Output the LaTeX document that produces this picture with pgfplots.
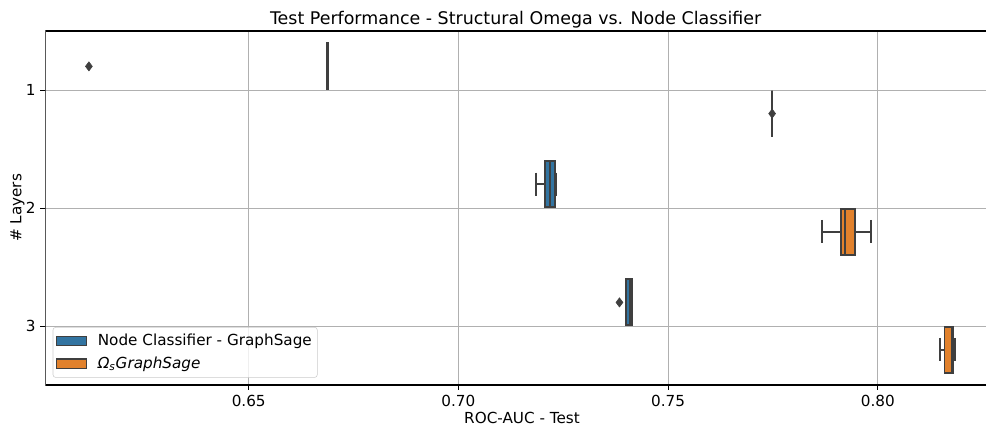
\documentclass[border=0pt]{standalone}
\usepackage{pgfplots}
\pgfplotsset{compat=1.18}
\usepgfplotslibrary{statistics}
\usepackage{fontspec}
\setmainfont{DejaVu Sans}

\definecolor{sbblue}{HTML}{3274A1}
\definecolor{sborange}{HTML}{E1812C}
\definecolor{edge}{HTML}{3F3F3F}
\definecolor{gridc}{HTML}{B0B0B0}
\definecolor{legframe}{HTML}{CCCCCC}

% one horizontal box: draw position, whiskers, quartiles, median, fill
\pgfplotsset{
  hbox/.style n args={7}{
    forget plot,
    boxplot/draw direction=x,
    boxplot/every box/.style={fill=#7, draw=edge, line width=1.4bp},
    boxplot/every whisker/.style={draw=edge, line width=1.4bp},
    boxplot/every median/.style={draw=edge, line width=1.4bp},
    boxplot prepared={
      draw position=#1,
      lower whisker=#2, lower quartile=#3, median=#4,
      upper quartile=#5, upper whisker=#6,
      box extend=0.39, whisker extend=0.2,
    },
    draw=edge, line width=1.4bp,
  },
}

\begin{document}
\begin{tikzpicture}
\begin{axis}[
  name=ax,
  scale only axis, width=677.3bp, height=254.9bp,
  xmin=0.6015, xmax=0.8258,
  ymin=0.5, ymax=3.5, y dir=reverse,
  xtick={0.65,0.70,0.75,0.80},
  xticklabels={0.65,0.70,0.75,0.80},
  ytick={1,2,3},
  yticklabels={1,2,3},
  ticklabel style={font=\fontsize{11}{13}\selectfont},
  grid=major, grid style={gridc, line width=0.6bp},
  tick align=outside, tick pos=left, major tick length=3.5bp,
  tick style={black, line width=0.6bp},
  axis line style={draw=none},
  title={Test Performance - Structural Omega vs. Node Classifier},
  title style={at={(0.5,1)}, anchor=base, yshift=-1.5bp,
    font=\fontsize{12.6}{15}\selectfont},
  xlabel={ROC-AUC - Test},
  xlabel style={at={(0.5,0)}, anchor=base, yshift=-27.6bp, xshift=4.6bp,
    font=\fontsize{11}{13}\selectfont},
  legend style={at={(0.0079,0.0206)}, anchor=south west,
    draw=legframe, rounded corners=2bp, fill=white, fill opacity=0.8,
    text opacity=1, font=\fontsize{11}{13}\selectfont,
    row sep=2.5bp, column sep=5.5bp, inner xsep=2bp, inner ysep=3bp},
  legend cell align=left,
  legend image code/.code={\draw[sharp corners, fill opacity=1, draw opacity=1, #1]
    (0bp,-3.4bp) rectangle (22bp,3.4bp);},
]

% Node Classifier - GraphSage
\addplot[hbox={0.8}{0.6687}{0.6687}{0.6688}{0.6689}{0.6689}{sbblue}] coordinates {};
\addplot[hbox={1.8}{0.7184}{0.7207}{0.7219}{0.7231}{0.7233}{sbblue}] coordinates {};
\addplot[hbox={2.8}{0.7400}{0.7400}{0.7408}{0.7415}{0.7415}{sbblue}] coordinates {};

% Omega_s GraphSage
\addplot[hbox={1.2}{0.7748}{0.7748}{0.7748}{0.7748}{0.7748}{sborange}] coordinates {};
\addplot[hbox={2.2}{0.7866}{0.7912}{0.7922}{0.7945}{0.7983}{sborange}] coordinates {};
\addplot[hbox={3.2}{0.8149}{0.8159}{0.8177}{0.8180}{0.8184}{sborange}] coordinates {};

% outliers
\addplot[only marks, mark=diamond*, mark size=3.3bp, color=edge, forget plot]
  coordinates {(0.6119,0.8) (0.7748,1.2) (0.7384,2.8)};

\addlegendimage{fill=sbblue, draw=edge, line width=0.8bp}
\addlegendentry{Node Classifier - GraphSage}
\addlegendimage{fill=sborange, draw=edge, line width=0.8bp}
\addlegendentry{{\itshape Ω\textsubscript{s}GraphSage}}

% frame: left, top and bottom spines
\draw[black, line width=0.8bp] (rel axis cs:1,0) -- (rel axis cs:0,0)
  -- (rel axis cs:0,1) -- (rel axis cs:1,1);
\end{axis}
\node[rotate=90, font=\fontsize{11}{13}\selectfont] at ([xshift=-20bp]ax.west) {\# Layers};
\pgfresetboundingbox
\path[use as bounding box] ([xshift=-32.6bp,yshift=-31bp]ax.south west)
  rectangle ([xshift=0.7bp,yshift=22.3bp]ax.north east);
\end{tikzpicture}
\end{document}
